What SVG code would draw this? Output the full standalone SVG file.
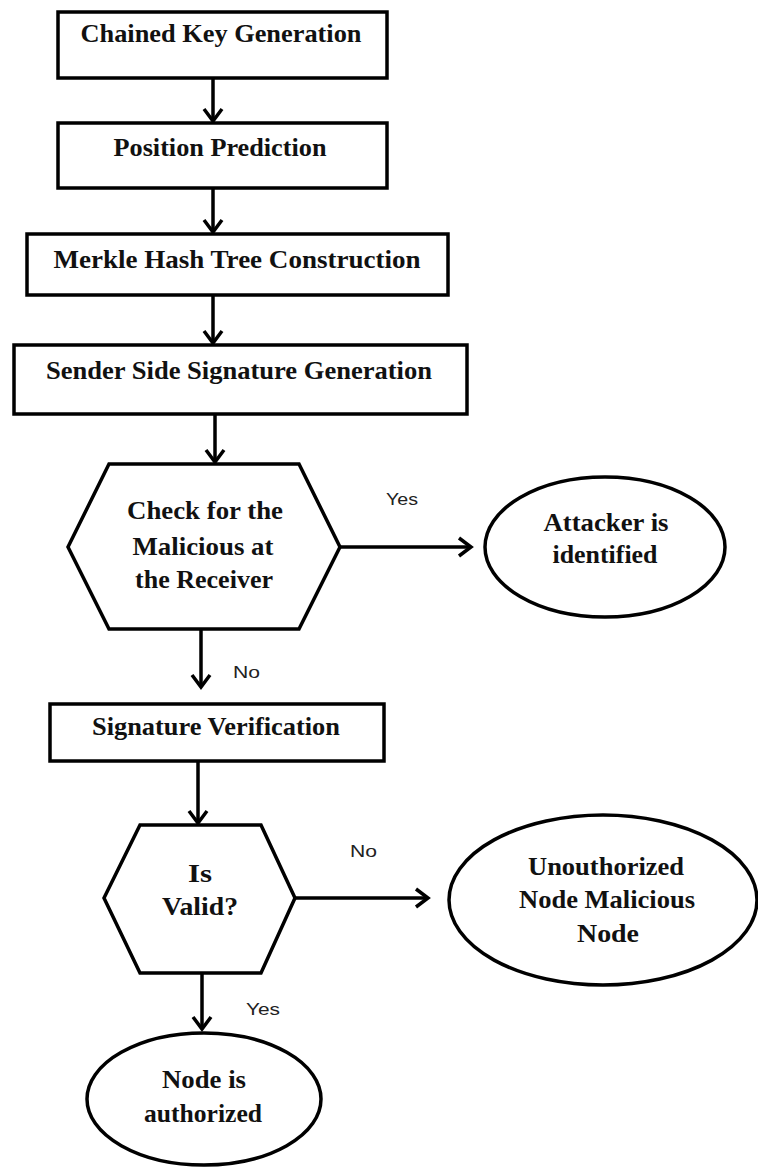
<svg xmlns="http://www.w3.org/2000/svg" width="758" height="1167" viewBox="0 0 758 1167">
<style>
.shape{fill:#fff;stroke:#000;stroke-width:3.5}
.t{font-family:"Liberation Serif","Times New Roman",serif;font-weight:bold;font-size:25px;fill:#111;text-anchor:middle}
.lbl{font-family:"Liberation Sans",Arial,sans-serif;font-size:17px;fill:#222}
.c{fill:none;stroke:#000;stroke-width:3.5}
</style>
<defs>
<marker id="ah" markerUnits="userSpaceOnUse" markerWidth="30" markerHeight="30" viewBox="-15 -15 30 30" refX="0" refY="0" orient="auto">
<path d="M-12,-9 L0,0 L-12,9" fill="none" stroke="#000" stroke-width="3.5" stroke-linejoin="miter"/>
</marker>
</defs>
<rect width="758" height="1167" fill="#fff"/>
<g id="connectors">
<path class="c" d="M213,79 V121" marker-end="url(#ah)"/>
<path class="c" d="M213,188 V232" marker-end="url(#ah)"/>
<path class="c" d="M213,295 V343" marker-end="url(#ah)"/>
<path class="c" d="M215,414 V462" marker-end="url(#ah)"/>
<path class="c" d="M340,547 H471" marker-end="url(#ah)"/>
<path class="c" d="M201,629 V687" marker-end="url(#ah)"/>
<path class="c" d="M198,761 V823" marker-end="url(#ah)"/>
<path class="c" d="M295,898 H428" marker-end="url(#ah)"/>
<path class="c" d="M202,973 V1029" marker-end="url(#ah)"/>
<text class="lbl" x="386" y="505" textLength="32" lengthAdjust="spacingAndGlyphs">Yes</text>
<text class="lbl" x="233" y="678" textLength="27" lengthAdjust="spacingAndGlyphs">No</text>
<text class="lbl" x="350" y="857" textLength="27" lengthAdjust="spacingAndGlyphs">No</text>
<text class="lbl" x="246" y="1015" textLength="34" lengthAdjust="spacingAndGlyphs">Yes</text>
</g>
<g id="n1">
<rect class="shape" x="58" y="12" width="329" height="66"/>
<text class="t" x="221" y="42" textLength="281" lengthAdjust="spacingAndGlyphs">Chained Key Generation</text>
</g>
<g id="n2">
<rect class="shape" x="58" y="123" width="329" height="65"/>
<text class="t" x="220" y="156" textLength="213" lengthAdjust="spacingAndGlyphs">Position Prediction</text>
</g>
<g id="n3">
<rect class="shape" x="27" y="234" width="421" height="61"/>
<text class="t" x="237" y="268" textLength="367" lengthAdjust="spacingAndGlyphs">Merkle Hash Tree Construction</text>
</g>
<g id="n4">
<rect class="shape" x="14" y="345" width="453" height="69"/>
<text class="t" x="239" y="379" textLength="386" lengthAdjust="spacingAndGlyphs">Sender Side Signature Generation</text>
</g>
<g id="n5">
<polygon class="shape" points="109,464 299,464 340,547 299,629 109,629 68,547"/>
<text class="t" x="205" y="519" textLength="156" lengthAdjust="spacingAndGlyphs">Check for the</text>
<text class="t" x="203" y="555" textLength="141" lengthAdjust="spacingAndGlyphs">Malicious at</text>
<text class="t" x="204" y="588" textLength="138" lengthAdjust="spacingAndGlyphs">the Receiver</text>
</g>
<g id="n6">
<ellipse class="shape" cx="605" cy="547" rx="120" ry="70"/>
<text class="t" x="606" y="531" textLength="125" lengthAdjust="spacingAndGlyphs">Attacker is</text>
<text class="t" x="605" y="563" textLength="105" lengthAdjust="spacingAndGlyphs">identified</text>
</g>
<g id="n7">
<rect class="shape" x="50" y="704" width="334" height="57"/>
<text class="t" x="216" y="735" textLength="248" lengthAdjust="spacingAndGlyphs">Signature Verification</text>
</g>
<g id="n8">
<polygon class="shape" points="140,825 261,825 295,898 261,973 140,973 104,898"/>
<text class="t" x="200" y="882" textLength="24" lengthAdjust="spacingAndGlyphs">Is</text>
<text class="t" x="200" y="915" textLength="76" lengthAdjust="spacingAndGlyphs">Valid?</text>
</g>
<g id="n9">
<ellipse class="shape" cx="603" cy="900" rx="154" ry="85"/>
<text class="t" x="606" y="875" textLength="156" lengthAdjust="spacingAndGlyphs">Unouthorized</text>
<text class="t" x="607" y="908" textLength="176" lengthAdjust="spacingAndGlyphs">Node Malicious</text>
<text class="t" x="608" y="942" textLength="62" lengthAdjust="spacingAndGlyphs">Node</text>
</g>
<g id="n10">
<ellipse class="shape" cx="204" cy="1099" rx="117" ry="66"/>
<text class="t" x="204" y="1088" textLength="84" lengthAdjust="spacingAndGlyphs">Node is</text>
<text class="t" x="203" y="1122" textLength="118" lengthAdjust="spacingAndGlyphs">authorized</text>
</g>
</svg>
